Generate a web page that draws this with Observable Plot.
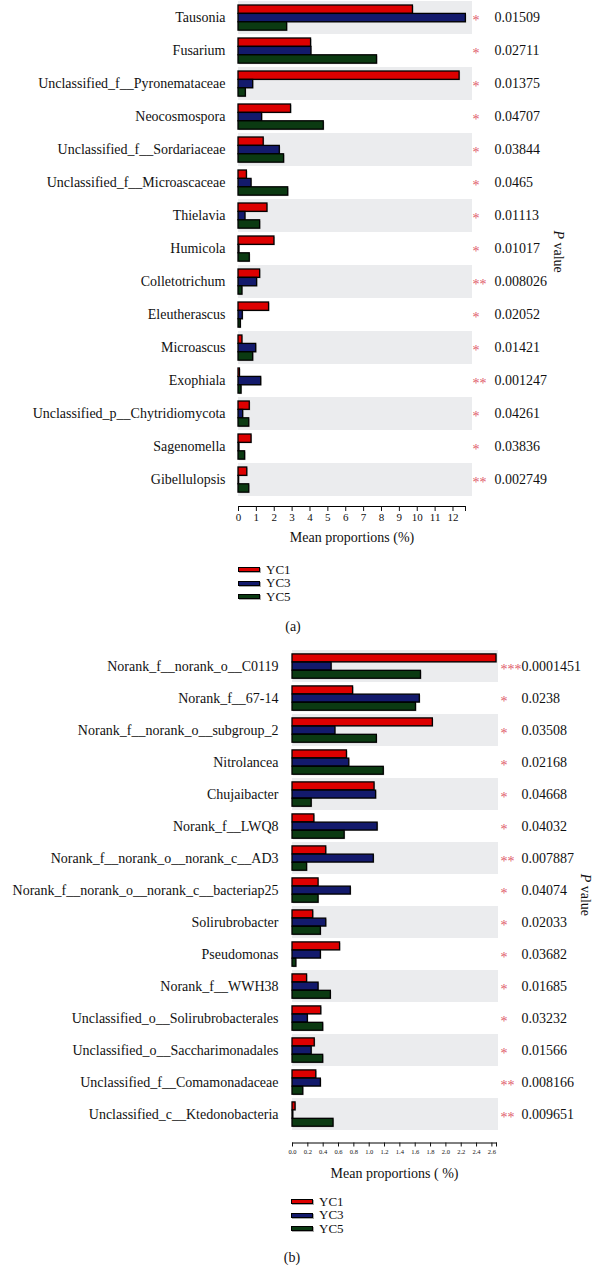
<!DOCTYPE html>
<html><head><meta charset="utf-8">
<script src="https://cdn.jsdelivr.net/npm/d3@7"></script>
<script src="https://cdn.jsdelivr.net/npm/@observablehq/plot@0.6"></script>
<style>
body{margin:0;background:#fff;}
#wrap{position:relative;width:592px;height:1268px;font-family:"Liberation Serif","Times New Roman",serif;color:#111;}
.leg{position:absolute;font-size:13px;line-height:14px;height:14px;display:flex;align-items:center;}
.sw{width:20px;height:3px;border:1px solid #000;margin-right:6px;box-shadow:1px 1px 0 #aaa;}
.cap{position:absolute;font-size:14px;line-height:16px;transform:translateX(-50%);}
</style></head><body><div id="wrap"></div>
<script>
// ---------- Panel (a): fungi ----------
const fungiNames = ["Tausonia","Fusarium","Unclassified_f__Pyronemataceae","Neocosmospora","Unclassified_f__Sordariaceae","Unclassified_f__Microascaceae","Thielavia","Humicola","Colletotrichum","Eleutherascus","Microascus","Exophiala","Unclassified_p__Chytridiomycota","Sagenomella","Gibellulopsis"];
const fungiYC1 = [9.76, 4.06, 12.37, 2.94, 1.41, 0.47, 1.62, 2.01, 1.21, 1.71, 0.22, 0.08, 0.63, 0.73, 0.49];
const fungiYC3 = [12.72, 4.08, 0.82, 1.32, 2.31, 0.73, 0.39, 0.05, 1.04, 0.24, 0.99, 1.27, 0.26, 0.05, 0.03];
const fungiYC5 = [2.72, 7.75, 0.41, 4.77, 2.55, 2.78, 1.21, 0.63, 0.22, 0.13, 0.82, 0.17, 0.60, 0.37, 0.60];
const fungiStars = ["*","*","*","*","*","*","*","*","**","*","*","**","*","*","**"];
const fungiP = ["0.01509","0.02711","0.01375","0.04707","0.03844","0.0465","0.01113","0.01017","0.008026","0.02052","0.01421","0.001247","0.04261","0.03836","0.002749"];
const fungiTicks = [0,1,2,3,4,5,6,7,8,9,10,11,12,12.7];
const fungiMax = 12.7;

// ---------- Panel (b): bacteria ----------
const bactNames = ["Norank_f__norank_o__C0119","Norank_f__67-14","Norank_f__norank_o__subgroup_2","Nitrolancea","Chujaibacter","Norank_f__LWQ8","Norank_f__norank_o__norank_c__AD3","Norank_f__norank_o__norank_c__bacteriap25","Solirubrobacter","Pseudomonas","Norank_f__WWH38","Unclassified_o__Solirubrobacterales","Unclassified_o__Saccharimonadales","Unclassified_f__Comamonadaceae","Unclassified_c__Ktedonobacteria"];
const bactYC1 = [2.66, 0.79, 1.83, 0.71, 1.07, 0.285, 0.44, 0.34, 0.27, 0.62, 0.19, 0.375, 0.29, 0.31, 0.04];
const bactYC3 = [0.51, 1.66, 0.56, 0.74, 1.09, 1.11, 1.06, 0.76, 0.44, 0.37, 0.34, 0.20, 0.25, 0.37, 0.01];
const bactYC5 = [1.675, 1.61, 1.10, 1.19, 0.25, 0.68, 0.19, 0.34, 0.37, 0.05, 0.50, 0.40, 0.40, 0.14, 0.535];
const bactStars = ["***","*","*","*","*","*","**","*","*","*","*","*","*","**","**"];
const bactP = ["0.0001451","0.0238","0.03508","0.02168","0.04668","0.04032","0.007887","0.04074","0.02033","0.03682","0.01685","0.03232","0.01566","0.008166","0.009651"];
const bactTicks = [0,0.2,0.4,0.6,0.8,1.0,1.2,1.4,1.6,1.8,2.0,2.2,2.4,2.6,2.66];
const bactMax = 2.66;

const groups = ["YC1","YC3","YC5"];
const groupColors = ["#dd0000","#131a6c","#0b3a12"];

function panel(o) {
  const rows = o.names.map((name, i) => ({name, YC1: o.v1[i], YC3: o.v3[i], YC5: o.v5[i], stars: o.stars[i], p: o.pvals[i], shade: i % 2 === 0}));
  const rowH = (o.height - o.mB - 10) / o.names.length;
  const off = rowH * 0.121, bh = rowH * 0.254;
  const marks = [];
  marks.push(Plot.barX(rows.filter(d => d.shade), {y: "name", x1: 0, x2: o.xMax, fill: "#ebecee", insetRight: -o.bandExt}));
  groups.forEach((g, i) => {
    const it = off + i * bh, ib = rowH - off - (i + 1) * bh;
    marks.push(Plot.barX(rows, {y: "name", x: g, fill: "#9a9a9a", opacity: 0.6, dx: 1, dy: 1, insetTop: it, insetBottom: ib}));
    marks.push(Plot.barX(rows, {y: "name", x: g, fill: groupColors[i], stroke: "#000", strokeWidth: 1.3, insetTop: it, insetBottom: ib}));
  });
  marks.push(Plot.frame({anchor: "bottom", stroke: "#000"}));
  marks.push(Plot.axisX({ticks: o.ticks, tickFormat: o.fmt, tickSize: o.tickSize, tickPadding: 2, fontSize: o.tickFont, label: null}));
  marks.push(Plot.axisY({tickSize: 0, tickPadding: o.tickPad, fontSize: 14, label: null}));
  marks.push(Plot.text(rows, {y: "name", text: "stars", frameAnchor: "right", textAnchor: "start", dx: o.starDx, dy: 3, fill: "#e05a6a", fontSize: 14}));
  marks.push(Plot.text(rows, {y: "name", text: "p", frameAnchor: "right", textAnchor: "start", dx: o.pDx, fill: "#111", fontSize: 14}));
  marks.push(Plot.text([o.title], {text: d => d, frameAnchor: "bottom", dy: o.titleDy, fontSize: 14, fill: "#111"}));
  marks.push(Plot.text(["P"], {text: d => d, frameAnchor: "right", dx: o.pvDx, dy: o.pvDy, rotate: 90, textAnchor: "start", fontStyle: "italic", fontSize: 14, fill: "#111"}));
  marks.push(Plot.text(["value"], {text: d => d, frameAnchor: "right", dx: o.pvDx, dy: o.pvDy + 12, rotate: 90, textAnchor: "start", fontSize: 14, fill: "#111"}));
  return Plot.plot({
    width: 592, height: o.height,
    marginLeft: o.mL, marginRight: o.mR, marginTop: 0, marginBottom: o.mB,
    x: {domain: [0, o.xMax]},
    y: {domain: o.names, padding: 0, insetBottom: 10},
    style: {fontFamily: "Liberation Serif, Times New Roman, serif", fontSize: "14px", background: "transparent", overflow: "visible", color: "#111"},
    marks
  });
}

const wrap = document.getElementById("wrap");

const svgA = panel({names: fungiNames, v1: fungiYC1, v3: fungiYC3, v5: fungiYC5, stars: fungiStars, pvals: fungiP,
  xMax: fungiMax, ticks: fungiTicks, fmt: d => Number.isInteger(d) ? String(d) : "",
  height: 555, mL: 238, mR: 127, mB: 49, tickSize: 5, tickFont: 11, tickPad: 13, bandExt: 7,
  starDx: 7, pDx: 29, title: "Mean proportions (%)", titleDy: 35, pvDx: 93, pvDy: -23});
svgA.style.position = "absolute"; svgA.style.left = "0px"; svgA.style.top = "0px";
wrap.appendChild(svgA);

const svgB = panel({names: bactNames, v1: bactYC1, v3: bactYC3, v5: bactYC5, stars: bactStars, pvals: bactP,
  xMax: bactMax, ticks: bactTicks, fmt: d => d > 2.6 ? "" : d.toFixed(1),
  height: 545, mL: 292, mR: 96, mB: 50.5, tickSize: 4, tickFont: 6.5, tickPad: 14, bandExt: 2,
  starDx: 4, pDx: 25, title: "Mean proportions ( %)", titleDy: 34.5, pvDx: 89, pvDy: -22});
svgB.style.position = "absolute"; svgB.style.left = "0px"; svgB.style.top = "648px";
wrap.appendChild(svgB);

function legend(left, tops) {
  groups.forEach((g, i) => {
    const row = document.createElement("div");
    row.className = "leg";
    row.style.left = left + "px";
    row.style.top = (tops[i] - 7) + "px";
    const sw = document.createElement("div");
    sw.className = "sw";
    sw.style.background = groupColors[i];
    row.appendChild(sw);
    row.appendChild(document.createTextNode(g));
    wrap.appendChild(row);
  });
}
legend(238, [569.5, 583, 596.5]);
legend(291, [1201.7, 1215, 1228.5]);

function caption(text, cx, cy) {
  const c = document.createElement("div");
  c.className = "cap";
  c.style.left = cx + "px";
  c.style.top = (cy - 8) + "px";
  c.textContent = text;
  wrap.appendChild(c);
}
caption("(a)", 293, 627);
caption("(b)", 292, 1258);
</script></body></html>
